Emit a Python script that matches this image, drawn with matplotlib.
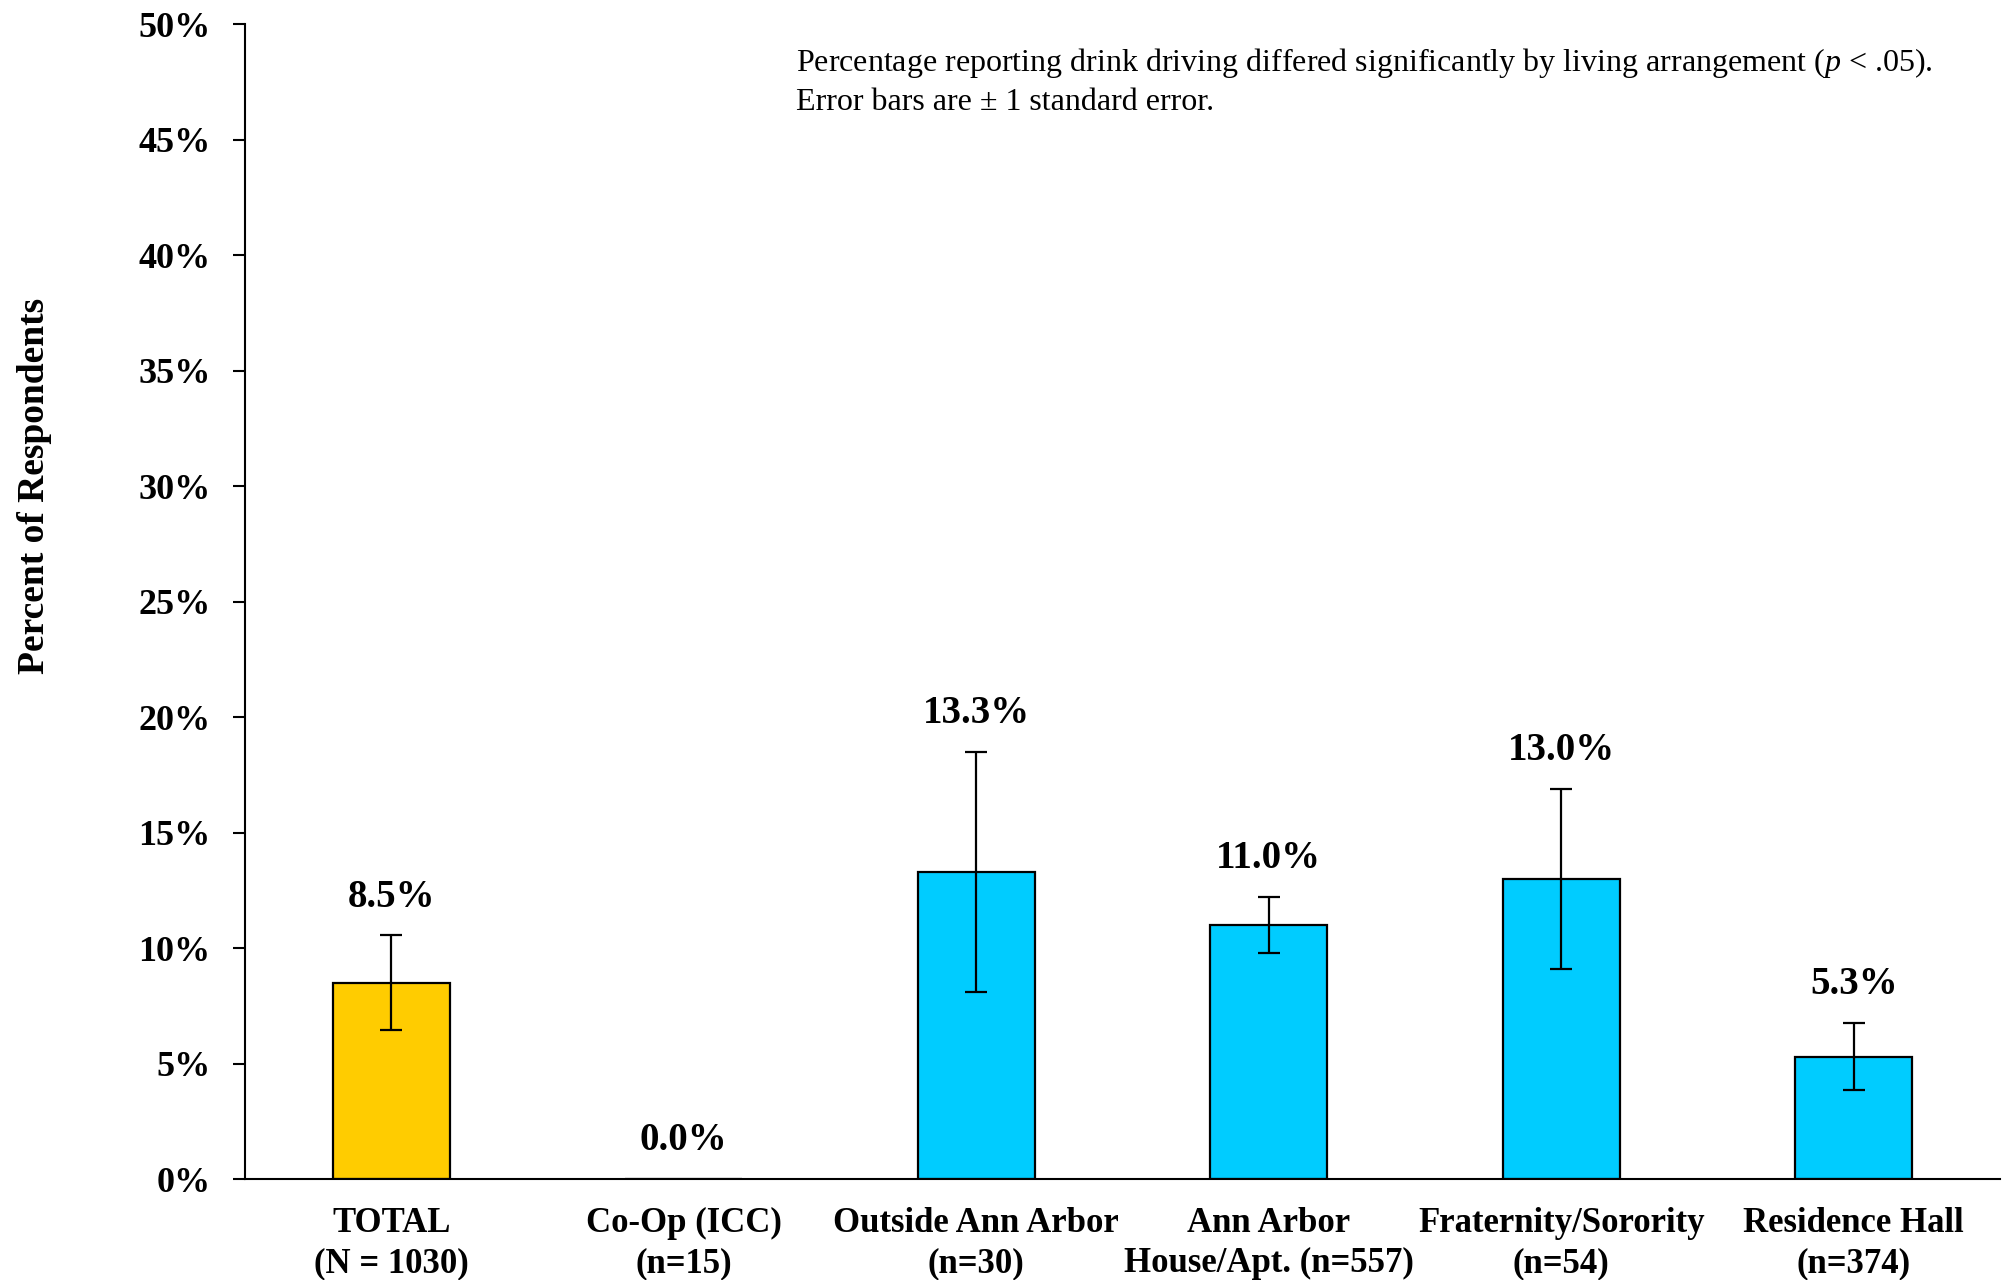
import matplotlib
matplotlib.use("Agg")
import matplotlib.pyplot as plt
import numpy as np

categories = ["TOTAL\n(N = 1030)", "Co-Op (ICC)\n(n=15)", "Outside Ann Arbor\n(n=30)",
              "Ann Arbor\nHouse/Apt. (n=557)", "Fraternity/Sorority\n(n=54)",
              "Residence Hall\n(n=374)"]
values = [8.5, 0.0, 13.3, 11.0, 13.0, 5.3]
std_err = [2.05, 0.0, 5.2, 1.2, 3.9, 1.45]
bar_colors = ["#FFCC00", "#00CCFF", "#00CCFF", "#00CCFF", "#00CCFF", "#00CCFF"]
yticks = np.arange(0, 51, 5)

plt.rcParams["font.family"] = ["Liberation Serif", "DejaVu Serif"]
plt.rcParams["mathtext.fontset"] = "custom"
plt.rcParams["mathtext.rm"] = "Liberation Serif"
plt.rcParams["mathtext.it"] = "Liberation Serif:italic"

fig = plt.figure(figsize=(20.14, 12.8), dpi=100)
ax = fig.add_axes([0.1217, 0.0789, 0.993 - 0.1217, 0.981 - 0.0789])

x = np.arange(len(values))
ax.bar(x, values, width=0.4, color=bar_colors, edgecolor="black", linewidth=1.6, zorder=2)

# Error bars only where there's something to show
has_err = np.array(std_err) > 0
ax.errorbar(x[has_err], np.array(values)[has_err], yerr=np.array(std_err)[has_err],
            fmt="none", ecolor="black", elinewidth=1.6, capsize=8, capthick=1.6, zorder=3)

for xi, v, se in zip(x, values, std_err):
    ax.text(xi, v + se + 1.25, f"{v:.1f}%", ha="center", va="baseline",
            fontsize=28, fontweight="bold")

ax.set_xlim(-0.5, len(values) - 0.5)
ax.set_ylim(0, 50)
ax.set_yticks(yticks)
ax.set_yticklabels([f"{t}%" for t in yticks])
ax.set_xticks(x)
ax.set_xticklabels(categories)

ax.tick_params(axis="y", direction="out", length=9, width=1.5, pad=16, labelsize=26)
ax.tick_params(axis="x", length=0, pad=20, labelsize=25)
for lbl in ax.get_yticklabels() + ax.get_xticklabels():
    lbl.set_fontweight("bold")
for lbl in ax.get_xticklabels():
    lbl.set_linespacing(1.3)

ax.spines["top"].set_visible(False)
ax.spines["right"].set_visible(False)
ax.spines["left"].set_linewidth(1.5)
ax.spines["bottom"].set_linewidth(1.5)

fig.text(0.017, 0.620, "Percent of Respondents", rotation=90, ha="center", va="center",
         fontsize=27, fontweight="bold")

fig.text(0.395, 0.964,
         "Percentage reporting drink driving differed significantly by living arrangement ($\\it{p}$ < .05).\n"
         "Error bars are \u00b1 1 standard error.",
         ha="left", va="top", fontsize=23, linespacing=1.35)

fig.savefig("out.png", dpi=100)
